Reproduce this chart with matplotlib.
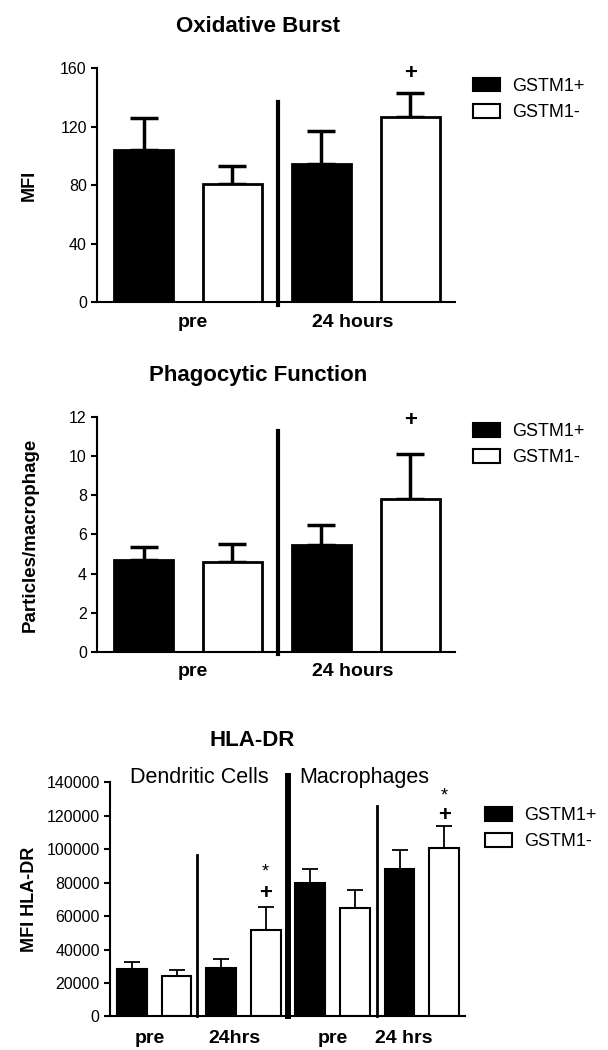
import numpy as np
import matplotlib
matplotlib.use("Agg")
import matplotlib.pyplot as plt
from matplotlib.patches import Patch

plt.rcParams['font.family'] = ['Liberation Sans', 'DejaVu Sans']

groups = ['GSTM1+', 'GSTM1-']

# Oxidative Burst (MFI)
ox_means = [104, 80.8, 94.7, 127]
ox_err = [21.7, 12.7, 22.1, 16.4]
ox_labels = ['pre', '24 hours']

# Phagocytic Function (particles/macrophage)
ph_means = [4.71, 4.58, 5.45, 7.81]
ph_err = [0.65, 0.95, 1.03, 2.27]
ph_labels = ['pre', '24 hours']

# HLA-DR (MFI): dendritic cells pre/24h, macrophages pre/24h
hla_means = [28300, 24300, 28900, 51400, 79600, 64900, 88000, 100500]
hla_err = [4200, 3600, 5500, 14300, 8400, 10600, 11700, 13400]
hla_labels = ['pre', '24hrs', 'pre', '24 hrs']
hla_cells = ['Dendritic Cells', 'Macrophages']

fig = plt.figure(figsize=(6.08, 10.5), dpi=100)


def draw_bars(ax, means, errs, width, lw, elw, cap):
    x = np.arange(len(means))
    colors = ['black' if i % 2 == 0 else 'white' for i in x]
    ax.bar(x, means, width=width, color=colors, edgecolor='black', linewidth=lw, zorder=2)
    ax.errorbar(x, means, yerr=[np.zeros(len(errs)), errs], fmt='none', ecolor='black',
                elinewidth=elw, capsize=cap, capthick=elw, zorder=1)
    return x


def style(ax, lw=1.5):
    for s in ['top', 'right']:
        ax.spines[s].set_visible(False)
    ax.spines['left'].set_linewidth(lw)
    ax.spines['bottom'].set_linewidth(lw)
    ax.tick_params(axis='y', length=4, width=lw, labelsize=11.5)
    ax.tick_params(axis='x', length=0, labelbottom=False)


def legend(ax, anchor):
    handles = [Patch(facecolor='black', edgecolor='black', linewidth=1.5),
               Patch(facecolor='white', edgecolor='black', linewidth=1.5)]
    ax.legend(handles, groups, loc='upper left', bbox_to_anchor=anchor, frameon=False,
              fontsize=13, handlelength=1.5, handleheight=0.8, handletextpad=0.7,
              labelspacing=0.5, borderaxespad=0, borderpad=0)


# ---- panel 1
ax1 = fig.add_axes([0.160, 0.712, 0.588, 0.223])
x = draw_bars(ax1, ox_means, ox_err, 0.67, 2.0, 2.5, 10)
ax1.set_xlim(-0.52, 3.5)
ax1.set_ylim(0, 160)
ax1.set_yticks([0, 40, 80, 120, 160])
style(ax1)
ax1.plot([1.51, 1.51], [-1.5, 136.8], color='black', lw=3, clip_on=False)
ax1.text(3, 156.5, '+', ha='center', va='center', fontsize=16, fontweight='bold')
ax1.set_ylabel('MFI', fontsize=13, fontweight='bold', labelpad=16)
ax1.set_title('Oxidative Burst', fontsize=16, fontweight='bold', pad=26, x=0.45)
for pos, lab in zip([0.55, 2.35], ox_labels):
    ax1.text(pos, -14, lab, ha='center', va='center', fontsize=14, fontweight='bold')
legend(ax1, (1.05, 0.96))

# ---- panel 2
ax2 = fig.add_axes([0.160, 0.379, 0.588, 0.224])
x = draw_bars(ax2, ph_means, ph_err, 0.67, 2.0, 2.5, 10)
ax2.set_xlim(-0.52, 3.5)
ax2.set_ylim(0, 12)
ax2.set_yticks([0, 2, 4, 6, 8, 10, 12])
style(ax2)
ax2.plot([1.51, 1.51], [-0.1, 11.27], color='black', lw=3, clip_on=False)
ax2.text(3, 11.8, '+', ha='center', va='center', fontsize=16, fontweight='bold')
ax2.set_ylabel('Particles/macrophage', fontsize=13.5, fontweight='bold', labelpad=22)
ax2.set_title('Phagocytic Function', fontsize=16, fontweight='bold', pad=26, x=0.45)
for pos, lab in zip([0.55, 2.35], ph_labels):
    ax2.text(pos, -1.0, lab, ha='center', va='center', fontsize=14, fontweight='bold')
legend(ax2, (1.05, 0.975))

# ---- panel 3
ax3 = fig.add_axes([0.181, 0.032, 0.584, 0.223])
x = draw_bars(ax3, hla_means, hla_err, 0.67, 1.5, 1.3, 5.5)
ax3.set_xlim(-0.49, 7.47)
ax3.set_ylim(0, 140000)
ax3.set_yticks(np.arange(0, 140001, 20000))
style(ax3)
ax3.plot([1.46, 1.46], [0, 96600], color='black', lw=2, clip_on=False)
ax3.plot([3.5, 3.5], [0, 144000], color='black', lw=4.3, clip_on=False)
ax3.plot([5.49, 5.49], [0, 125800], color='black', lw=2, clip_on=False)
for xi, yp, ys in [(3, 73300, 86500), (7, 119900, 131500)]:
    ax3.text(xi, yp, '+', ha='center', va='center', fontsize=16, fontweight='bold')
    ax3.text(xi, ys, '*', ha='center', va='center', fontsize=13)
ax3.set_ylabel('MFI HLA-DR', fontsize=13, fontweight='bold', labelpad=6)
ax3.set_title('HLA-DR', fontsize=16, fontweight='bold', pad=26, x=0.40)
ax3.text(1.5, 143000, hla_cells[0], ha='center', va='center', fontsize=15.5)
ax3.text(5.2, 143000, hla_cells[1], ha='center', va='center', fontsize=15.5)
for pos, lab in zip([0.4, 2.3, 4.5, 6.1], hla_labels):
    ax3.text(pos, -13000, lab, ha='center', va='center', fontsize=14, fontweight='bold')
legend(ax3, (1.055, 0.895))

fig.savefig('out.png', dpi=100)
